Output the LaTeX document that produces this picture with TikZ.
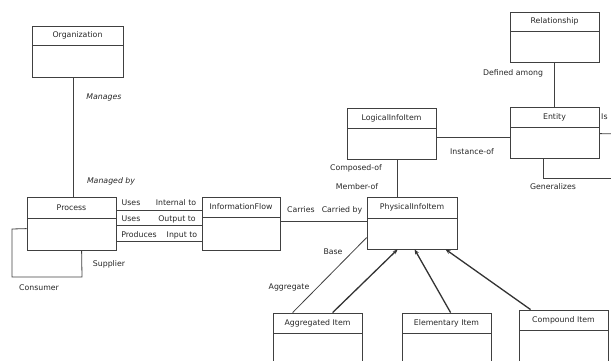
\documentclass[tikz,border=0pt]{standalone}
\usepackage{fontspec}
\setmainfont{DejaVu Sans}
\usetikzlibrary{fit,calc,arrows.meta}
\tikzset{
  boxframe/.style={draw=black!75, line width=0.8pt, inner sep=0pt, fit={#1}},
  divline/.style={draw=black!75, line width=0.8pt},
  hdr/.style={font=\fontsize{7.8}{9}\selectfont, text=black!85, inner sep=0pt},
  lbl/.style={font=\fontsize{7.8}{9}\selectfont, text=black!85, inner sep=0pt},
  lblit/.style={lbl, font=\fontsize{7.8}{9}\selectfont\itshape},
  conn/.style={draw=black!75, line width=0.8pt},
  gen/.style={draw=black!80, line width=1.3pt, -{Stealth[length=5pt,width=4pt]}},
}
\newcommand{\umlclass}[7]{%
  \node[boxframe={(#2,#3)(#4,#5)}] (#1) {};
  \draw[divline] (#2,#6) -- (#4,#6);
  \node[hdr] (#1-t) at ({(#2+#4)/2},{(#3+#6)/2}) {#7};
}
\begin{document}
\begin{tikzpicture}[x=1pt,y=-1pt]
\useasboundingbox (0,0) rectangle (611,361);
\clip (0,0) rectangle (611,361);
% classes
\umlclass{org}{32}{26}{123}{77}{45}{Organization}
\umlclass{proc}{27}{197}{116}{250}{218}{Process}
\umlclass{iflow}{202}{197}{280}{250}{217}{InformationFlow}
\umlclass{pii}{367}{197}{457}{249}{218}{PhysicalInfoItem}
\umlclass{lii}{347}{108}{436}{159}{128}{LogicalInfoItem}
\umlclass{ent}{510}{107}{599}{158}{127}{Entity}
\umlclass{rel}{510}{12}{599}{62}{31}{Relationship}
\umlclass{agg}{273}{313}{362}{380}{333}{Aggregated Item}
\umlclass{elem}{402}{313}{491}{380}{333}{Elementary Item}
\umlclass{comp}{519}{310}{608}{380}{330}{Compound Item}
% free ends
\coordinate (isEnd) at (620,134);
\coordinate (genEnd) at (620,178);
\coordinate (loopA) at (12,229);
\coordinate (loopB) at (12,277);
\coordinate (loopC) at (82,277);
% Organization - Process
\draw[conn] ($(org.south west)+(42,0)$) -- ($(proc.north west)+(47,0)$);
\node[lblit] (lmanages) at (104,97) {Manages};
\node[lblit] (lmanaged) at (111,181) {Managed by};
% Process self loop
\draw[conn] ($(proc.north west)+(0,32)$) -- (loopA) -- (loopB) -- (loopC) -- ($(proc.south west)+(55,0)$);
\node[lbl] (lsupp) at (109,264) {Supplier};
\node[lbl] (lcons) at (39,288) {Consumer};
% Process - InformationFlow
\draw[conn] ($(proc.north east)+(0,14)$) -- ($(iflow.north west)+(0,14)$);
\draw[conn] ($(proc.north east)+(0,29)$) -- ($(iflow.north west)+(0,29)$);
\draw[conn] ($(proc.north east)+(0,45)$) -- ($(iflow.north west)+(0,45)$);
\node[lbl] (u1) at (131,203) {Uses};
\node[lbl] (i1) at (176,203) {Internal to};
\node[lbl] (u2) at (131,219) {Uses};
\node[lbl] (o2) at (177,219) {Output to};
\node[lbl] (p3) at (139,235) {Produces};
\node[lbl] (i3) at (182,235) {Input to};
% InformationFlow - PhysicalInfoItem
\draw[conn] ($(iflow.north east)+(0,25)$) -- ($(pii.north west)+(0,25)$);
\node[lbl] (lcarries) at (301,210) {Carries};
\node[lbl] (lcarried) at (342,210) {Carried by};
% LogicalInfoItem - PhysicalInfoItem
\draw[conn] ($(lii.south west)+(51,0)$) -- ($(pii.north west)+(31,0)$);
\node[lbl] (lcomp) at (356,168) {Composed-of};
\node[lbl] (lmemb) at (357,187) {Member-of};
% LogicalInfoItem - Entity
\draw[conn] ($(lii.north east)+(0,30)$) -- ($(ent.north west)+(0,31)$);
\node[lbl] (linst) at (472,152) {Instance-of};
% Relationship - Entity
\draw[conn] (rel.south) -- (ent.north);
\node[lbl] (ldef) at (513,73) {Defined among};
% Entity right
\draw[conn] ($(ent.north east)+(0,27)$) -- (isEnd);
\node[lbl, anchor=west] (lis) at (601,117) {Is};
\draw[conn] ($(ent.south west)+(34,0)$) |- (genEnd);
\node[lbl] (lgen) at (553,187) {Generalizes};
% Aggregation
\draw[conn] ($(agg.north west)+(20,0)$) -- ($(pii.north west)+(0,41)$);
\node[lbl] (lbase) at (333,252) {Base};
\node[lbl] (laggr) at (289,287) {Aggregate};
% Generalizations
\draw[gen] ($(agg.north west)+(60,0)$) -- ($(pii.south west)+(31,0)$);
\draw[gen] ($(elem.north west)+(49,0)$) -- ($(pii.south west)+(48,0)$);
\draw[gen] ($(comp.north west)+(12,0)$) -- ($(pii.south west)+(79,0)$);
\end{tikzpicture}
\end{document}
